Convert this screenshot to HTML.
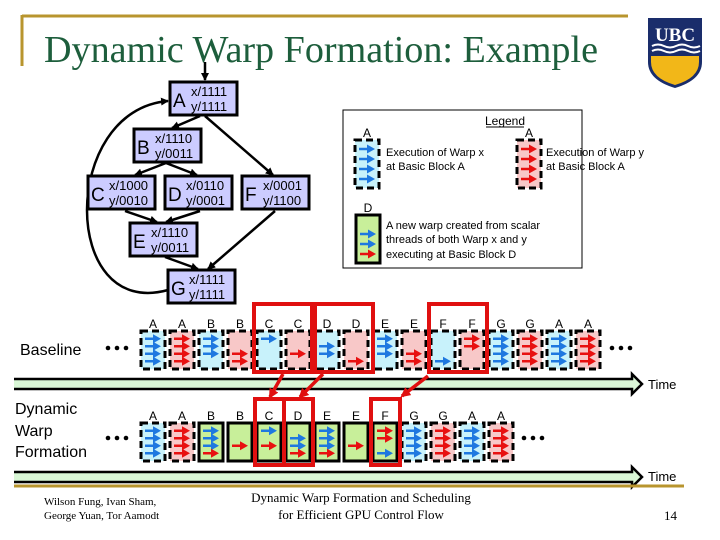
<!DOCTYPE html>
<html><head><meta charset="utf-8">
<style>
html,body{margin:0;padding:0;background:#fff;}
svg{display:block;}
text{font-family:"Liberation Sans",sans-serif;}
</style></head>
<body>
<svg id="s" width="720" height="540" viewBox="0 0 720 540" xmlns="http://www.w3.org/2000/svg">
<defs>
<marker id="ah" markerWidth="8" markerHeight="8" refX="7" refY="4" orient="auto" markerUnits="userSpaceOnUse"><path d="M0,0 L8,4 L0,8 z" fill="#000"/></marker>
<marker id="rh" markerWidth="10" markerHeight="10" refX="8" refY="5" orient="auto" markerUnits="userSpaceOnUse"><path d="M0,0 L10,5 L0,10 z" fill="#e01010"/></marker>
</defs>
<line x1="22" y1="16" x2="628" y2="16" stroke="#b8952e" stroke-width="3"/>
<line x1="22" y1="15" x2="22" y2="66" stroke="#b8952e" stroke-width="3"/>
<text x="44" y="62" font-size="38" fill="#1d5e3c" textLength="554" lengthAdjust="spacingAndGlyphs" style="font-family:'Liberation Serif',serif">Dynamic Warp Formation: Example</text>
<path d="M648,18 H702 V62 Q702,80 675,88 Q648,80 648,62 Z" fill="#1a2d6b"/>
<text x="675" y="41" text-anchor="middle" font-size="19" font-weight="bold" fill="#fff" style="font-family:'Liberation Serif',serif">UBC</text>
<path d="M652,46 q6,-3 12,0 t12,0 t12,0 t12,0" stroke="#fff" stroke-width="2" fill="none"/>
<path d="M652,51 q6,-3 12,0 t12,0 t12,0 t12,0" stroke="#fff" stroke-width="2" fill="none"/>
<path d="M651,56 H699 V62 Q699,78 675,85 Q651,78 651,62 Z" fill="#f2b718"/>
<g stroke="#000" stroke-width="2.5" fill="none">
<line x1="205" y1="62" x2="205" y2="80" marker-end="url(#ah)"/>
<line x1="200" y1="116" x2="172" y2="128" marker-end="url(#ah)"/>
<line x1="205" y1="116" x2="273" y2="175" marker-end="url(#ah)"/>
<line x1="166" y1="163" x2="135" y2="175" marker-end="url(#ah)"/>
<line x1="166" y1="163" x2="197" y2="175" marker-end="url(#ah)"/>
<line x1="125" y1="211" x2="157" y2="222" marker-end="url(#ah)"/>
<line x1="200" y1="211" x2="166" y2="222" marker-end="url(#ah)"/>
<line x1="165" y1="257" x2="198" y2="269" marker-end="url(#ah)"/>
<line x1="275" y1="211" x2="208" y2="269" marker-end="url(#ah)"/>
<path d="M168,290 C60,320 60,110 168,101" marker-end="url(#ah)"/>
</g>
<g id="nodes"></g>
<rect x="343" y="110" width="239" height="158" fill="#fff" stroke="#000" stroke-width="1"/>
<text x="505" y="125" font-size="12" text-anchor="middle">Legend</text>
<line x1="486" y1="127" x2="524" y2="127" stroke="#000" stroke-width="1"/>
<g font-size="11">
<text x="386" y="156">Execution of Warp x</text><text x="386" y="170">at Basic Block A</text>
<text x="546" y="156">Execution of Warp y</text><text x="546" y="170">at Basic Block A</text>
<text x="386" y="229">A new warp created from scalar</text>
<text x="386" y="243">threads of both Warp x and y</text>
<text x="386" y="258">executing at Basic Block D</text>
</g>
<g id="warps"></g>
<text x="20" y="355" font-size="16">Baseline</text>
<text x="15" y="414" font-size="16">Dynamic</text>
<text x="15" y="436" font-size="16">Warp</text>
<text x="15" y="457" font-size="16">Formation</text>
<g fill="#000">
<circle cx="108" cy="348" r="2.3"/><circle cx="117" cy="348" r="2.3"/><circle cx="126" cy="348" r="2.3"/>
<circle cx="612" cy="348" r="2.3"/><circle cx="621" cy="348" r="2.3"/><circle cx="630" cy="348" r="2.3"/>
<circle cx="108" cy="438" r="2.3"/><circle cx="117" cy="438" r="2.3"/><circle cx="126" cy="438" r="2.3"/>
<circle cx="524" cy="438" r="2.3"/><circle cx="533" cy="438" r="2.3"/><circle cx="542" cy="438" r="2.3"/>
</g>
<path d="M14,379 H632 V374 L642,384 L632,394 V389 H14" fill="#d9f7d6" stroke="#000" stroke-width="2.5"/>
<text x="648" y="389" font-size="13">Time</text>
<path d="M14,472 H632 V467 L642,477 L632,487 V482 H14" fill="#d9f7d6" stroke="#000" stroke-width="2.5"/>
<text x="648" y="481" font-size="13">Time</text>
<line x1="14" y1="486" x2="684" y2="486" stroke="#b8952e" stroke-width="3"/>
<text x="44" y="505" font-size="11" style="font-family:'Liberation Serif',serif">Wilson Fung, Ivan Sham,</text>
<text x="44" y="519" font-size="11" style="font-family:'Liberation Serif',serif">George Yuan, Tor Aamodt</text>
<text x="361" y="502" font-size="13" text-anchor="middle" style="font-family:'Liberation Serif',serif">Dynamic Warp Formation and Scheduling</text>
<text x="361" y="519" font-size="13" text-anchor="middle" style="font-family:'Liberation Serif',serif">for Efficient GPU Control Flow</text>
<text x="664" y="520" font-size="13" style="font-family:'Liberation Serif',serif">14</text>
<g id="red"></g>
</svg>
<script>
var NS="http://www.w3.org/2000/svg";
function el(p,t,a,txt){var e=document.createElementNS(NS,t);for(var k in a)e.setAttribute(k,a[k]);if(txt!=null)e.textContent=txt;p.appendChild(e);return e;}
var nodes=document.getElementById('nodes');
[["A",170,82],["B",134,129],["C",88,176],["D",165,176],["F",242,176],["E",130,223],["G",168,270]].forEach(function(n,i){
 var m=[["1111","1111"],["1110","0011"],["1000","0010"],["0110","0001"],["0001","1100"],["1110","0011"],["1111","1111"]][i];
 el(nodes,'rect',{x:n[1],y:n[2],width:67,height:33,fill:"#ccccff",stroke:"#000","stroke-width":3});
 el(nodes,'text',{x:n[1]+3,y:n[2]+25,"font-size":19},n[0]);
 el(nodes,'text',{x:n[1]+21,y:n[2]+14,"font-size":13},"x/"+m[0]);
 el(nodes,'text',{x:n[1]+21,y:n[2]+29,"font-size":13},"y/"+m[1]);
});
var W=document.getElementById('warps');
var BL="#1e78e0",RD="#e81010";
function arrow(x,y,c){el(W,'line',{x1:x+3,y1:y,x2:x+13,y2:y,stroke:c,"stroke-width":2.5});el(W,'path',{d:"M"+(x+11)+","+(y-4.5)+" L"+(x+19)+","+y+" L"+(x+11)+","+(y+4.5)+"z",fill:c});}
function warp(x,y,lab,type,rows,h){
 h=h||38;
 var fill=type=="x"?"#c8f2fb":type=="y"?"#f8c8c8":"#c8ef9a";
 var a={x:x,y:y,width:24,height:h,fill:fill,stroke:"#000","stroke-width":3};
 if(type!="g")a["stroke-dasharray"]="7,4";
 el(W,'rect',a);
 if(lab)el(W,'text',{x:x+12,y:y-3,"font-size":12,"text-anchor":"middle"},lab);
 var step=(h-8)/4;
 rows.forEach(function(c,i){if(c)arrow(x+1,y+4+step*(i+0.5),c);});
}
function m(s,c){return s.split('').map(function(b){return b=="1"?c:null;});}
var bl=[["A","1111","1111"],["B","1110","0011"],["C","1000","0010"],["D","0110","0001"],["E","1110","0011"],["F","0001","1100"],["G","1111","1111"],["A","1111","1111"]];
bl.forEach(function(b,i){
 var x=141+i*58;
 warp(x,331,b[0],"x",m(b[1],BL));
 warp(x+29,331,b[0],"y",m(b[2],RD));
});
warp(355,140,"A","x",m("1111",BL),48);
warp(517,140,"A","y",m("1111",RD),48);
warp(356,215,"D","g",[null,BL,BL,RD],48);
var y2=423,B=BL,R=RD;
warp(141,y2,"A","x",m("1111",B));
warp(170,y2,"A","y",m("1111",R));
warp(199,y2,"B","g",[B,B,B,R]);
warp(228,y2,"B","g",[null,null,R,null]);
warp(257,y2,"C","g",[B,null,R,null]);
warp(286,y2,"D","g",[null,B,B,R]);
warp(315,y2,"E","g",[B,B,B,R]);
warp(344,y2,"E","g",[null,null,R,null]);
warp(373,y2,"F","g",[R,R,null,B]);
warp(402,y2,"G","x",m("1111",B));
warp(431,y2,"G","y",m("1111",R));
warp(460,y2,"A","x",m("1111",B));
warp(489,y2,"A","y",m("1111",R));
var Rg=document.getElementById('red');
function rr(x,y,w,h){el(Rg,'rect',{x:x,y:y,width:w,height:h,fill:"none",stroke:"#e01010","stroke-width":4});}
rr(254,304,58,68);rr(315,304,58,68);rr(429,304,58,68);
rr(255,399,29,66);rr(284,399,29,66);rr(371,399,29,66);
function ra(x1,y1,x2,y2){el(Rg,'line',{x1:x1,y1:y1,x2:x2,y2:y2,stroke:"#e01010","stroke-width":3.5,"marker-end":"url(#rh)"});}
ra(283,374,270,397);ra(323,374,300,397);ra(428,376,402,396);
</script>
</body></html>
